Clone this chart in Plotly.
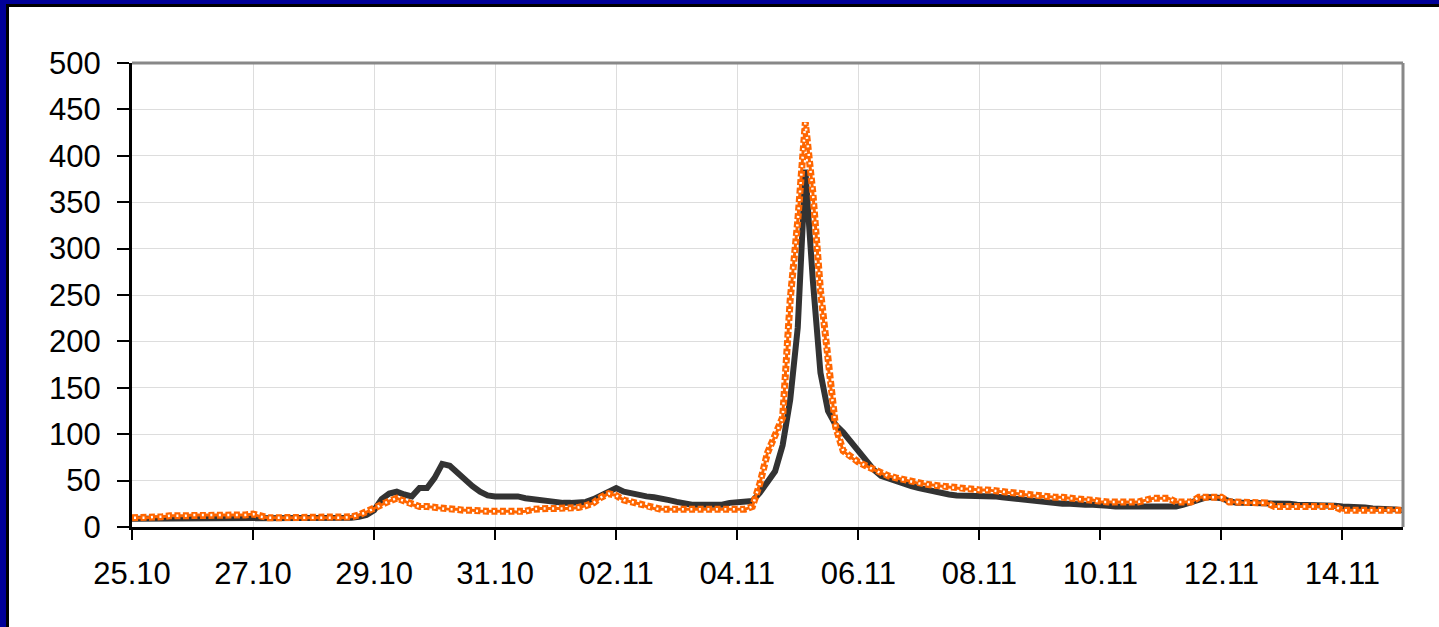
import pandas as pd
import plotly.graph_objects as go

# 3-hourly readings from 25.10 00:00 to 15.11 00:00
start = "2010-10-25 00:00"

series_dark = [
    9, 9, 9, 9, 10, 10, 10, 10,          # 25.10
    10, 10, 10, 10, 10, 10, 10, 10,      # 26.10
    10, 10, 9, 9, 9, 9, 9, 9,            # 27.10
    9, 9, 9, 9, 10, 10, 11, 13,          # 28.10
    18, 30, 36, 38, 35, 33, 42, 42,      # 29.10
    53, 68, 66, 58, 50, 44, 38, 34,      # 30.10
    33, 33, 33, 33, 31, 30, 29, 28,      # 31.10
    26, 26, 26, 26, 27, 30, 34, 38,      # 01.11
    42, 38, 36, 34, 33, 32, 31, 29,      # 02.11
    27, 25, 24, 24, 24, 24, 24, 26,      # 03.11
    27, 27, 28, 37, 48, 60, 88, 137,     # 04.11
    215, 385, 265, 166, 125, 110, 102, 92,  # 05.11
    84, 72, 62, 55, 52, 49, 46, 44,      # 06.11
    42, 40, 38, 36, 35, 34, 34, 34,      # 07.11
    34, 34, 33, 32, 31, 30, 29, 28,      # 08.11
    27, 26, 26, 25, 25, 24, 24, 24,      # 09.11
    24, 23, 22, 22, 22, 22, 22, 22,      # 10.11
    22, 22, 22, 24, 27, 30, 32, 32,      # 11.11
    31, 28, 26, 26, 26, 26, 26, 26,      # 12.11
    26, 25, 24, 24, 24, 24, 24, 23,      # 13.11
    22, 22, 21, 21, 20, 20, 19, 19,      # 14.11
    18,                                  # 15.11
]

series_orange = [
    10, 10, 10, 11, 11, 12, 12, 12,      # 25.10
    13, 13, 13, 13, 13, 13, 13, 13,      # 26.10
    14, 11, 10, 10, 10, 10, 10, 10,      # 27.10
    10, 10, 10, 10, 10, 11, 13, 16,      # 28.10
    20, 24, 28, 31, 28, 24, 22, 22,      # 29.10
    21, 20, 19, 19, 18, 18, 17, 17,      # 30.10
    17, 17, 17, 16, 17, 19, 20, 20,      # 31.10
    20, 20, 20, 21, 23, 26, 32, 36,      # 01.11
    34, 29, 27, 25, 22, 20, 19, 19,      # 02.11
    19, 19, 19, 19, 19, 19, 19, 19,      # 03.11
    19, 19, 22, 47, 80, 98, 118, 245,    # 04.11
    330, 436, 360, 255, 175, 108, 82, 75,  # 05.11
    70, 66, 62, 58, 55, 53, 51, 49,      # 06.11
    47, 46, 45, 44, 43, 42, 41, 41,      # 07.11
    40, 40, 39, 38, 37, 36, 35, 34,      # 08.11
    33, 33, 32, 32, 31, 30, 30, 29,      # 09.11
    27, 27, 27, 27, 27, 27, 29, 31,      # 10.11
    31, 31, 27, 27, 27, 32, 32, 32,      # 11.11
    32, 27, 27, 26, 26, 26, 26, 22,      # 12.11
    22, 22, 22, 22, 22, 22, 22, 22,      # 13.11
    18, 18, 18, 18, 18, 18, 18, 18,      # 14.11
    18,                                  # 15.11
]

y_ticks = [0, 50, 100, 150, 200, 250, 300, 350, 400, 450, 500]

times = pd.date_range(start, periods=len(series_dark), freq="3h")

W, H = 1439, 627
L, R, T, B = 132, 36, 63, 100
pw, ph = W - L - R, H - T - B

ORANGE = "#ff6600"


def px_x(px):
    return (px - L) / pw


def px_y(py):
    return (H - B - py) / ph


fig = go.Figure()

fig.add_trace(go.Scatter(
    x=times, y=series_dark, mode="lines",
    line=dict(color="#333333", width=6),
    showlegend=False, hoverinfo="skip",
))

# orange series drawn as a chain of hollow squares along the path:
# thin core line, thick dashed links, then white dashed holes
fig.add_trace(go.Scatter(
    x=times, y=series_orange, mode="lines",
    line=dict(color=ORANGE, width=3),
    showlegend=False, hoverinfo="skip",
))
fig.add_trace(go.Scatter(
    x=times, y=series_orange, mode="lines",
    line=dict(color=ORANGE, width=7, dash="6px,2.5px"),
    showlegend=False, hoverinfo="skip",
))
fig.add_trace(go.Scatter(
    x=times, y=series_orange, mode="lines",
    line=dict(color="white", width=2.5, dash="0px,2px,2px,4.5px"),
    showlegend=False, hoverinfo="skip",
))

font = dict(family="Liberation Sans, Arial, sans-serif", size=31, color="black")

fig.update_xaxes(
    type="date",
    range=[times[0], times[-1]],
    tick0=times[0], dtick=2 * 86400000, tickformat="%d.%m",
    ticks="outside", ticklen=10, tickwidth=2, tickcolor="black",
    showline=True, linecolor="black", linewidth=3,
    showgrid=True, gridcolor="#dddddd", gridwidth=1,
    tickfont=font, ticklabelstandoff=7,
    zeroline=False,
)
fig.update_yaxes(
    range=[0, 500], tickvals=y_ticks,
    ticks="outside", ticklen=12, tickwidth=2, tickcolor="black",
    showline=True, linecolor="black", linewidth=3,
    showgrid=True, gridcolor="#dddddd", gridwidth=1,
    tickfont=font, ticklabelstandoff=10,
    zeroline=False,
)

shapes = [
    # grey top and right border of the plotting area
    dict(type="line", xref="paper", yref="paper", x0=0, x1=1, y0=1, y1=1,
         line=dict(color="#888888", width=3)),
    dict(type="line", xref="paper", yref="paper", x0=1, x1=1, y0=0, y1=1,
         line=dict(color="#888888", width=3)),
    # slide frame: blue band with a black inner edge on top and left
    dict(type="rect", xref="paper", yref="paper", layer="below",
         x0=px_x(0), x1=px_x(W), y0=px_y(0), y1=px_y(4),
         fillcolor="#000099", line=dict(width=0)),
    dict(type="rect", xref="paper", yref="paper", layer="below",
         x0=px_x(0), x1=px_x(6), y0=px_y(0), y1=px_y(H),
         fillcolor="#000099", line=dict(width=0)),
    dict(type="rect", xref="paper", yref="paper", layer="below",
         x0=px_x(6), x1=px_x(W), y0=px_y(4), y1=px_y(7),
         fillcolor="black", line=dict(width=0)),
    dict(type="rect", xref="paper", yref="paper", layer="below",
         x0=px_x(6), x1=px_x(9), y0=px_y(4), y1=px_y(H),
         fillcolor="black", line=dict(width=0)),
]

fig.update_layout(
    width=W, height=H,
    margin=dict(l=L, r=R, t=T, b=B, pad=0),
    paper_bgcolor="white", plot_bgcolor="white",
    shapes=shapes,
)

fig.write_html("out.html")
